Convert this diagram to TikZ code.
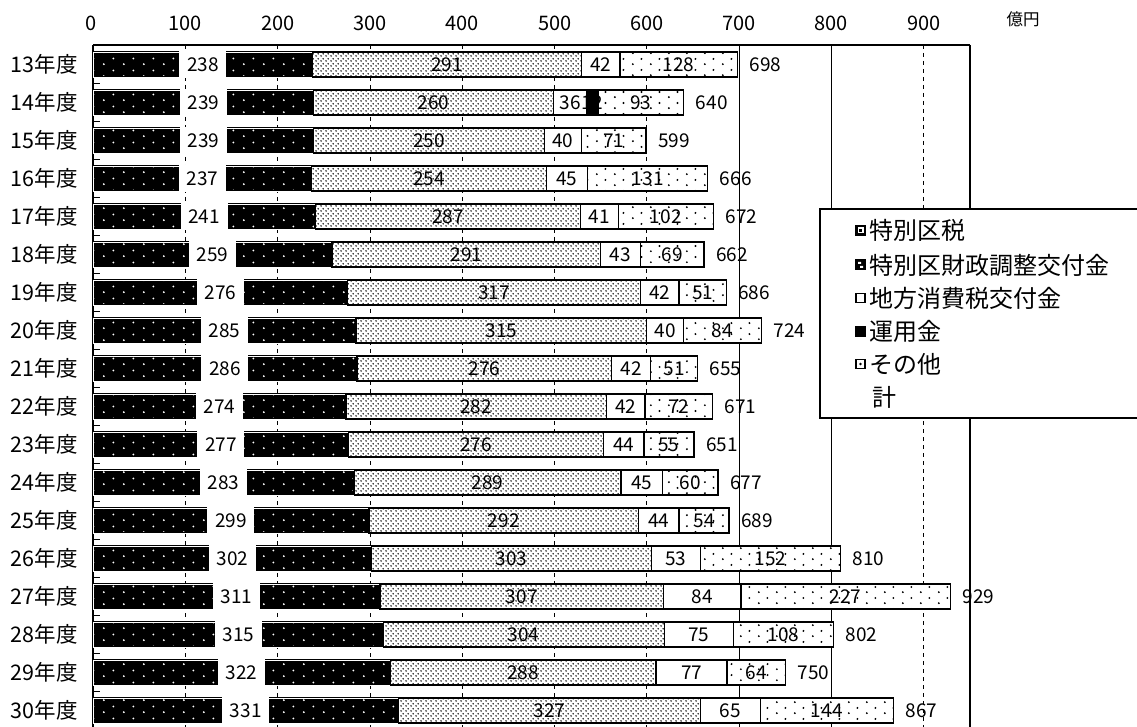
\documentclass[tikz,border=0pt]{standalone}
\usepackage{fontspec}
\setmainfont{Noto Sans CJK JP}
\usetikzlibrary{patterns.meta}

\tikzdeclarepattern{
  name=finedots, type=uncolored,
  bounding box={(0pt,0pt) and (5pt,5pt)},
  tile size={(5pt,5pt)},
  code={\fill (1.25pt,1.25pt) circle (1pt); \fill (3.75pt,3.75pt) circle (1pt);}
}
\tikzdeclarepattern{
  name=sparsedots, type=uncolored,
  bounding box={(0pt,0pt) and (18pt,11pt)},
  tile size={(18pt,11pt)},
  code={\fill (3pt,3pt) circle (1.1pt); \fill (12pt,8.5pt) circle (1.1pt);}
}
\tikzdeclarepattern{
  name=whitedots, type=uncolored,
  bounding box={(0pt,0pt) and (20pt,12pt)},
  tile size={(20pt,12pt)},
  code={\fill (4pt,3pt) circle (1.1pt); \fill (14pt,9pt) circle (1.1pt);}
}

\begin{document}
\begin{tikzpicture}[x=1pt, y=-1pt,
  kuzei/.style={preaction={fill=black}, pattern=whitedots, pattern color=white,
    draw=black, line width=1.1pt, double=white, double distance=0.7pt},
  chosei/.style={preaction={fill=white}, pattern=finedots, pattern color=black,
    draw=black, line width=1.3pt},
  shohi/.style={fill=white, draw=black, line width=1.3pt},
  unyo/.style={fill=black, draw=black, line width=1.3pt},
  sonota/.style={preaction={fill=white}, pattern=sparsedots, pattern color=black,
    draw=black, line width=1.3pt},
  seglab/.style={inner sep=0pt, font=\fontsize{19pt}{19pt}\selectfont},
  boxlab/.style={fill=white, minimum width=47pt, minimum height=27pt, inner sep=0pt,
    font=\fontsize{19pt}{19pt}\selectfont},
  totlab/.style={anchor=west, xshift=12pt, inner sep=0pt, font=\fontsize{19pt}{19pt}\selectfont},
  yearlab/.style={anchor=east, inner sep=0pt, font=\fontsize{21.5pt}{21.5pt}\selectfont},
  axislab/.style={inner sep=0pt, font=\fontsize{20pt}{20pt}\selectfont},
  leglab/.style={anchor=west, inner sep=0pt, font=\fontsize{24pt}{24pt}\selectfont},
  grid/.style={line width=0.8pt, dash pattern=on 4pt off 4pt}]
  \useasboundingbox (0,0) rectangle (1137,727);

  % axis labels
  \node[axislab] (v0) at (91,23) {0};
  \node[axislab] (v100) at (185,23) {100};
  \node[axislab] (v200) at (278,23) {200};
  \node[axislab] (v300) at (370,23) {300};
  \node[axislab] (v400) at (462,23) {400};
  \node[axislab] (v500) at (555,23) {500};
  \node[axislab] (v600) at (647,23) {600};
  \node[axislab] (v700) at (739,23) {700};
  \node[axislab] (v800) at (831,23) {800};
  \node[axislab] (v900) at (924,23) {900};
  \node[inner sep=0pt, font=\fontsize{16.5pt}{16.5pt}\selectfont] (unit) at (1023,19) {億円};

  \node[yearlab] (y13) at (78,64.5) {13年度};
  \node[yearlab] (y14) at (78,102.5) {14年度};
  \node[yearlab] (y15) at (78,140.5) {15年度};
  \node[yearlab] (y16) at (78,178.5) {16年度};
  \node[yearlab] (y17) at (78,216.5) {17年度};
  \node[yearlab] (y18) at (78,254.5) {18年度};
  \node[yearlab] (y19) at (78,292.5) {19年度};
  \node[yearlab] (y20) at (78,330.5) {20年度};
  \node[yearlab] (y21) at (78,368.5) {21年度};
  \node[yearlab] (y22) at (78,406.5) {22年度};
  \node[yearlab] (y23) at (78,444.5) {23年度};
  \node[yearlab] (y24) at (78,482.5) {24年度};
  \node[yearlab] (y25) at (78,520.5) {25年度};
  \node[yearlab] (y26) at (78,558.5) {26年度};
  \node[yearlab] (y27) at (78,596.5) {27年度};
  \node[yearlab] (y28) at (78,634.5) {28年度};
  \node[yearlab] (y29) at (78,672.5) {29年度};
  \node[yearlab] (y30) at (78,710.5) {30年度};

  \begin{scope}[xshift=93pt, x=0.923pt]
  % grid
  \draw[grid] (100,45) -- (100,727);
  \draw[grid] (200,45) -- (200,727);
  \draw[grid] (300,45) -- (300,727);
  \draw[grid] (400,45) -- (400,727);
  \draw[grid] (500,45) -- (500,727);
  \draw[grid] (600,45) -- (600,727);
  \draw[line width=1pt] (700,45) -- (700,727);
  \draw[line width=1.2pt] (800,45) -- (800,727);
  \draw[grid] (900,45) -- (900,727);
  \draw[line width=1.8pt] (950,45) -- (950,727);
  \draw[line width=2pt] (0,45) -- (950,45);
  \draw[line width=1.8pt] (0,45) -- (0,727);

  % 13
  \draw[kuzei] (0,52) rectangle (238,77);
  \draw[chosei] (238,52) rectangle (529,77);
  \draw[shohi] (529,52) rectangle (571,77);
  \draw[sonota] (571,52) rectangle (698,77);
  \node[boxlab] (k13) at (119,64.5) {238};
  \node[seglab] (c13) at (383.5,64.5) {291};
  \node[seglab] (s13) at (550,64.5) {42};
  \node[seglab] (o13) at (634.5,64.5) {128};
  \node[totlab] (t13) at (698,64.5) {698};
  % 14
  \draw[kuzei] (0,90) rectangle (239,115);
  \draw[chosei] (239,90) rectangle (499,115);
  \draw[shohi] (499,90) rectangle (535,115);
  \draw[unyo] (535,90) rectangle (547,115);
  \draw[sonota] (547,90) rectangle (640,115);
  \node[boxlab] (k14) at (119.5,102.5) {239};
  \node[seglab] (c14) at (369,102.5) {260};
  \node[seglab] (s14) at (517,102.5) {36};
  \node[seglab] (u14) at (541,102.5) {12};
  \node[seglab] (o14) at (593.5,102.5) {93};
  \node[totlab] (t14) at (640,102.5) {640};
  % 15
  \draw[kuzei] (0,128) rectangle (239,153);
  \draw[chosei] (239,128) rectangle (489,153);
  \draw[shohi] (489,128) rectangle (529,153);
  \draw[sonota] (529,128) rectangle (599,153);
  \node[boxlab] (k15) at (119.5,140.5) {239};
  \node[seglab] (c15) at (364,140.5) {250};
  \node[seglab] (s15) at (509,140.5) {40};
  \node[seglab] (o15) at (564,140.5) {71};
  \node[totlab] (t15) at (599,140.5) {599};
  % 16
  \draw[kuzei] (0,166) rectangle (237,191);
  \draw[chosei] (237,166) rectangle (491,191);
  \draw[shohi] (491,166) rectangle (536,191);
  \draw[sonota] (536,166) rectangle (666,191);
  \node[boxlab] (k16) at (118.5,178.5) {237};
  \node[seglab] (c16) at (364,178.5) {254};
  \node[seglab] (s16) at (513.5,178.5) {45};
  \node[seglab] (o16) at (601,178.5) {131};
  \node[totlab] (t16) at (666,178.5) {666};
  % 17
  \draw[kuzei] (0,204) rectangle (241,229);
  \draw[chosei] (241,204) rectangle (528,229);
  \draw[shohi] (528,204) rectangle (569,229);
  \draw[sonota] (569,204) rectangle (672,229);
  \node[boxlab] (k17) at (120.5,216.5) {241};
  \node[seglab] (c17) at (384.5,216.5) {287};
  \node[seglab] (s17) at (548.5,216.5) {41};
  \node[seglab] (o17) at (620.5,216.5) {102};
  \node[totlab] (t17) at (672,216.5) {672};
  % 18
  \draw[kuzei] (0,242) rectangle (259,267);
  \draw[chosei] (259,242) rectangle (550,267);
  \draw[shohi] (550,242) rectangle (593,267);
  \draw[sonota] (593,242) rectangle (662,267);
  \node[boxlab] (k18) at (129.5,254.5) {259};
  \node[seglab] (c18) at (404.5,254.5) {291};
  \node[seglab] (s18) at (571.5,254.5) {43};
  \node[seglab] (o18) at (627.5,254.5) {69};
  \node[totlab] (t18) at (662,254.5) {662};
  % 19
  \draw[kuzei] (0,280) rectangle (276,305);
  \draw[chosei] (276,280) rectangle (593,305);
  \draw[shohi] (593,280) rectangle (635,305);
  \draw[sonota] (635,280) rectangle (686,305);
  \node[boxlab] (k19) at (138,292.5) {276};
  \node[seglab] (c19) at (434.5,292.5) {317};
  \node[seglab] (s19) at (614,292.5) {42};
  \node[seglab] (o19) at (660.5,292.5) {51};
  \node[totlab] (t19) at (686,292.5) {686};
  % 20
  \draw[kuzei] (0,318) rectangle (285,343);
  \draw[chosei] (285,318) rectangle (600,343);
  \draw[shohi] (600,318) rectangle (640,343);
  \draw[sonota] (640,318) rectangle (724,343);
  \node[boxlab] (k20) at (142.5,330.5) {285};
  \node[seglab] (c20) at (442.5,330.5) {315};
  \node[seglab] (s20) at (620,330.5) {40};
  \node[seglab] (o20) at (682,330.5) {84};
  \node[totlab] (t20) at (724,330.5) {724};
  % 21
  \draw[kuzei] (0,356) rectangle (286,381);
  \draw[chosei] (286,356) rectangle (562,381);
  \draw[shohi] (562,356) rectangle (604,381);
  \draw[sonota] (604,356) rectangle (655,381);
  \node[boxlab] (k21) at (143,368.5) {286};
  \node[seglab] (c21) at (424,368.5) {276};
  \node[seglab] (s21) at (583,368.5) {42};
  \node[seglab] (o21) at (629.5,368.5) {51};
  \node[totlab] (t21) at (655,368.5) {655};
  % 22
  \draw[kuzei] (0,394) rectangle (274,419);
  \draw[chosei] (274,394) rectangle (556,419);
  \draw[shohi] (556,394) rectangle (598,419);
  \draw[sonota] (598,394) rectangle (671,419);
  \node[boxlab] (k22) at (137,406.5) {274};
  \node[seglab] (c22) at (415,406.5) {282};
  \node[seglab] (s22) at (577,406.5) {42};
  \node[seglab] (o22) at (634.5,406.5) {72};
  \node[totlab] (t22) at (671,406.5) {671};
  % 23
  \draw[kuzei] (0,432) rectangle (277,457);
  \draw[chosei] (277,432) rectangle (553,457);
  \draw[shohi] (553,432) rectangle (597,457);
  \draw[sonota] (597,432) rectangle (651,457);
  \node[boxlab] (k23) at (138.5,444.5) {277};
  \node[seglab] (c23) at (415,444.5) {276};
  \node[seglab] (s23) at (575,444.5) {44};
  \node[seglab] (o23) at (624,444.5) {55};
  \node[totlab] (t23) at (651,444.5) {651};
  % 24
  \draw[kuzei] (0,470) rectangle (283,495);
  \draw[chosei] (283,470) rectangle (572,495);
  \draw[shohi] (572,470) rectangle (617,495);
  \draw[sonota] (617,470) rectangle (677,495);
  \node[boxlab] (k24) at (141.5,482.5) {283};
  \node[seglab] (c24) at (427.5,482.5) {289};
  \node[seglab] (s24) at (594.5,482.5) {45};
  \node[seglab] (o24) at (647,482.5) {60};
  \node[totlab] (t24) at (677,482.5) {677};
  % 25
  \draw[kuzei] (0,508) rectangle (299,533);
  \draw[chosei] (299,508) rectangle (591,533);
  \draw[shohi] (591,508) rectangle (635,533);
  \draw[sonota] (635,508) rectangle (689,533);
  \node[boxlab] (k25) at (149.5,520.5) {299};
  \node[seglab] (c25) at (445,520.5) {292};
  \node[seglab] (s25) at (613,520.5) {44};
  \node[seglab] (o25) at (662,520.5) {54};
  \node[totlab] (t25) at (689,520.5) {689};
  % 26
  \draw[kuzei] (0,546) rectangle (302,571);
  \draw[chosei] (302,546) rectangle (605,571);
  \draw[shohi] (605,546) rectangle (658,571);
  \draw[sonota] (658,546) rectangle (810,571);
  \node[boxlab] (k26) at (151,558.5) {302};
  \node[seglab] (c26) at (453.5,558.5) {303};
  \node[seglab] (s26) at (631.5,558.5) {53};
  \node[seglab] (o26) at (734,558.5) {152};
  \node[totlab] (t26) at (810,558.5) {810};
  % 27
  \draw[kuzei] (0,584) rectangle (311,609);
  \draw[chosei] (311,584) rectangle (618,609);
  \draw[shohi] (618,584) rectangle (702,609);
  \draw[sonota] (702,584) rectangle (929,609);
  \node[boxlab] (k27) at (155.5,596.5) {311};
  \node[seglab] (c27) at (464.5,596.5) {307};
  \node[seglab] (s27) at (660,596.5) {84};
  \node[seglab] (o27) at (815.5,596.5) {227};
  \node[totlab] (t27) at (929,596.5) {929};
  % 28
  \draw[kuzei] (0,622) rectangle (315,647);
  \draw[chosei] (315,622) rectangle (619,647);
  \draw[shohi] (619,622) rectangle (694,647);
  \draw[sonota] (694,622) rectangle (802,647);
  \node[boxlab] (k28) at (157.5,634.5) {315};
  \node[seglab] (c28) at (466.5,634.5) {304};
  \node[seglab] (s28) at (656.5,634.5) {75};
  \node[seglab] (o28) at (748,634.5) {108};
  \node[totlab] (t28) at (802,634.5) {802};
  % 29
  \draw[kuzei] (0,660) rectangle (322,685);
  \draw[chosei] (322,660) rectangle (610,685);
  \draw[shohi] (610,660) rectangle (687,685);
  \draw[sonota] (687,660) rectangle (750,685);
  \node[boxlab] (k29) at (161,672.5) {322};
  \node[seglab] (c29) at (466,672.5) {288};
  \node[seglab] (s29) at (648.5,672.5) {77};
  \node[seglab] (o29) at (718.5,672.5) {64};
  \node[totlab] (t29) at (750,672.5) {750};
  % 30
  \draw[kuzei] (0,698) rectangle (331,723);
  \draw[chosei] (331,698) rectangle (658,723);
  \draw[shohi] (658,698) rectangle (723,723);
  \draw[sonota] (723,698) rectangle (867,723);
  \node[boxlab] (k30) at (165.5,710.5) {331};
  \node[seglab] (c30) at (494.5,710.5) {327};
  \node[seglab] (s30) at (690.5,710.5) {65};
  \node[seglab] (o30) at (795,710.5) {144};
  \node[totlab] (t30) at (867,710.5) {867};
  \end{scope}

  % ticks on the category axis
  \draw[line width=1.5pt] (93,83.5) -- (100,83.5) (93,121.5) -- (100,121.5)
    (93,159.5) -- (100,159.5) (93,197.5) -- (100,197.5) (93,235.5) -- (100,235.5)
    (93,273.5) -- (100,273.5) (93,311.5) -- (100,311.5) (93,349.5) -- (100,349.5)
    (93,387.5) -- (100,387.5) (93,425.5) -- (100,425.5) (93,463.5) -- (100,463.5)
    (93,501.5) -- (100,501.5) (93,539.5) -- (100,539.5) (93,577.5) -- (100,577.5)
    (93,615.5) -- (100,615.5) (93,653.5) -- (100,653.5) (93,691.5) -- (100,691.5);

  % legend
  \filldraw[fill=white, draw=black, line width=1.5pt] (820,209) rectangle (1145,418);
  \fill[black] (855,225) rectangle (866,236);
  \fill[white] (857.5,227.5) rectangle (863.5,233.5);
  \fill[black] (859,229) rectangle (862,232);
  \fill[black] (855,259.5) rectangle (866,270.5);
  \fill[white] (858,262) rectangle (861,264) (860,266) rectangle (863,268);
  \draw[shohi, line width=1.8pt] (856,293.5) rectangle (865,302.5);
  \fill[black] (855,325.5) rectangle (866,336.5);
  \draw[shohi, line width=1.8pt] (856,359.5) rectangle (865,368.5);
  \fill[black] (860.5,364) circle (1.3pt);
  \node[leglab] (l1) at (869,230) {特別区税};
  \node[leglab] (l2) at (869,265) {特別区財政調整交付金};
  \node[leglab] (l3) at (869,298) {地方消費税交付金};
  \node[leglab] (l4) at (869,331) {運用金};
  \node[leglab] (l5) at (869,364) {その他};
  \node[leglab] (l6) at (872,397) {計};
\end{tikzpicture}
\end{document}
